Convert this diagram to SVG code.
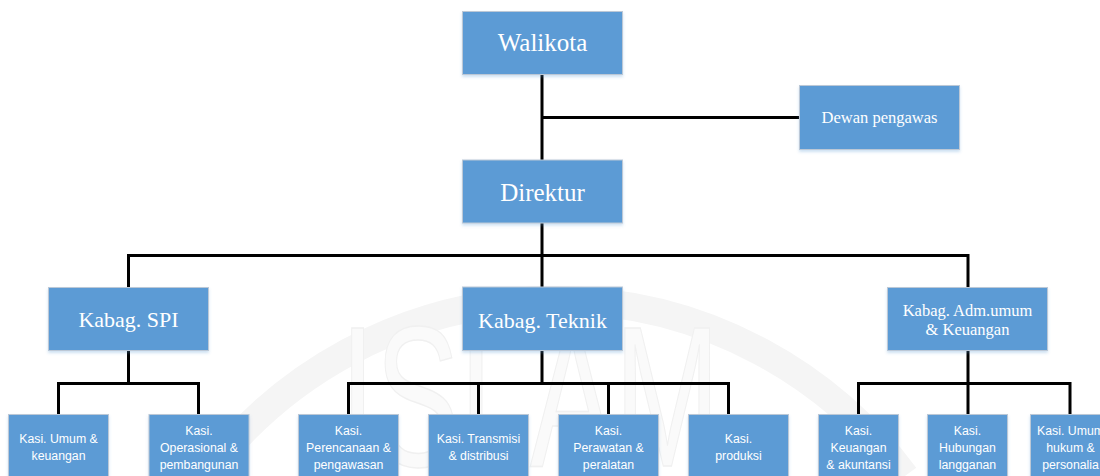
<svg xmlns="http://www.w3.org/2000/svg" width="1100" height="476" viewBox="0 0 1100 476">
<defs>
<filter id="sh" x="-10%" y="-10%" width="120%" height="130%">
<feDropShadow dx="0" dy="2" stdDeviation="1.5" flood-color="#5B9BD5" flood-opacity="0.3"/>
</filter>
<style>
.box{fill:#5B9BD5;stroke:#BCC8D6;stroke-width:1;filter:url(#sh)}
.ser{font-family:"Liberation Serif","Times New Roman",serif;fill:#FFFFFF;text-anchor:middle}
.t25{font-size:25px}
.t22{font-size:22px}
.t17{font-size:16.5px}
.san{font-family:"Liberation Sans",Arial,sans-serif;font-size:12.3px;fill:#FFFFFF;text-anchor:middle}
.ln{stroke:#000000;stroke-width:3;fill:none}
</style>
</defs>
<rect width="1100" height="476" fill="#FFFFFF"/>
<g id="watermark">
<path d="M 205 476 A 436 436 0 0 1 905 476" fill="none" stroke="#F5F5F5" stroke-width="28"/>
<text x="530" y="466" font-family="Liberation Sans, Arial, sans-serif" font-size="200" textLength="380" lengthAdjust="spacingAndGlyphs" text-anchor="middle" fill="#FAFAFA" stroke="#F0F0F0" stroke-width="1.5">ISLAM</text>
</g>
<g id="connectors">
<path class="ln" d="M542 74 V160 M542 117.5 H799 M542 223 V287 M128.5 287 V255.5 H968 V287"/>
<path class="ln" d="M128.5 350 V383.5 M58.5 414 V383.5 H198.5 V414"/>
<path class="ln" d="M542 350.7 V383.5 M348.5 414 V383.5 H728.5 V414 M478.5 383.5 V414 M608.5 383.5 V414"/>
<path class="ln" d="M968 350 V383.5 M858.5 414 V383.5 H1070 V414 M968 383.5 V414"/>
</g>
<g id="walikota"><rect class="box" x="462.5" y="11.5" width="160" height="63"/><text class="ser t25" x="542.5" y="51">Walikota</text></g>
<g id="dewan-pengawas"><rect class="box" x="799.5" y="85.5" width="160" height="64"/><text class="ser t17" x="879.5" y="122.5">Dewan pengawas</text></g>
<g id="direktur"><rect class="box" x="462.5" y="160" width="160" height="63"/><text class="ser t25" x="542.5" y="200.5">Direktur</text></g>
<g id="kabag-spi"><rect class="box" x="48.5" y="287.5" width="160" height="63"/><text class="ser t22" x="128.5" y="327">Kabag. SPI</text></g>
<g id="kabag-teknik"><rect class="box" x="462.5" y="287" width="160" height="63.5"/><text class="ser t22" x="542.5" y="327.5">Kabag. Teknik</text></g>
<g id="kabag-adm"><rect class="box" x="887.5" y="287.5" width="160" height="63"/><text class="ser t17" x="967.5" y="316">Kabag. Adm.umum</text><text class="ser t17" x="967.5" y="335">&amp; Keuangan</text></g>
<g id="kasi-umum-keuangan"><rect class="box" x="8.5" y="414.5" width="100" height="68"/><text class="san" x="58.5" y="443">Kasi. Umum &amp;</text><text class="san" x="58.5" y="460">keuangan</text></g>
<g id="kasi-operasional"><rect class="box" x="149" y="414.5" width="100" height="68"/><text class="san" x="199" y="435">Kasi.</text><text class="san" x="199" y="452">Operasional &amp;</text><text class="san" x="199" y="469">pembangunan</text></g>
<g id="kasi-perencanaan"><rect class="box" x="298.5" y="414.5" width="100" height="68"/><text class="san" x="348.5" y="435">Kasi.</text><text class="san" x="348.5" y="452">Perencanaan &amp;</text><text class="san" x="348.5" y="469">pengawasan</text></g>
<g id="kasi-transmisi"><rect class="box" x="428.5" y="414.5" width="100" height="68"/><text class="san" x="478.5" y="443">Kasi. Transmisi</text><text class="san" x="478.5" y="460">&amp; distribusi</text></g>
<g id="kasi-perawatan"><rect class="box" x="558.5" y="414.5" width="100" height="68"/><text class="san" x="608.5" y="435">Kasi.</text><text class="san" x="608.5" y="452">Perawatan &amp;</text><text class="san" x="608.5" y="469">peralatan</text></g>
<g id="kasi-produksi"><rect class="box" x="688.5" y="414.5" width="100" height="68"/><text class="san" x="738.5" y="443">Kasi.</text><text class="san" x="738.5" y="460">produksi</text></g>
<g id="kasi-keuangan-akuntansi"><rect class="box" x="818.5" y="414.5" width="80" height="68"/><text class="san" x="858.5" y="435">Kasi.</text><text class="san" x="858.5" y="452">Keuangan</text><text class="san" x="858.5" y="469">&amp; akuntansi</text></g>
<g id="kasi-hubungan-langganan"><rect class="box" x="927.5" y="414.5" width="80" height="68"/><text class="san" x="967.5" y="435">Kasi.</text><text class="san" x="967.5" y="452">Hubungan</text><text class="san" x="967.5" y="469">langganan</text></g>
<g id="kasi-umum-hukum"><rect class="box" x="1030.5" y="414.5" width="80" height="68"/><text class="san" x="1070.5" y="435">Kasi. Umum</text><text class="san" x="1070.5" y="452">hukum &amp;</text><text class="san" x="1070.5" y="469">personalia</text></g>
</svg>
